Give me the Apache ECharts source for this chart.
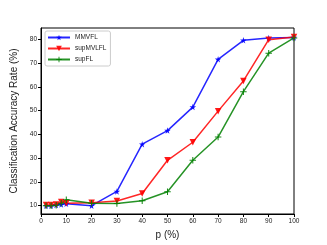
<!DOCTYPE html>
<html><head><meta charset="utf-8">
<script src="https://cdn.jsdelivr.net/npm/echarts@6/dist/echarts.min.js"></script>
<style>html,body{margin:0;padding:0;background:#fff}#c{width:327px;height:245px}</style>
</head><body><div id="c"></div>
<script>
const xValues = [2, 4, 6, 8, 10, 20, 30, 40, 50, 60, 70, 80, 90, 100];
const mmvfl = [10.0, 10.0, 10.3, 10.5, 10.8, 10.0, 16.0, 35.9, 41.6, 51.5, 71.6, 79.6, 80.6, 80.8];
const supMVLFL = [10.3, 10.3, 10.5, 11.6, 11.0, 11.2, 12.0, 15.1, 29.1, 36.7, 49.8, 62.5, 79.9, 81.0];
const supFL = [10.0, 10.0, 10.2, 11.0, 12.5, 11.0, 10.9, 12.1, 15.9, 29.1, 38.9, 58.0, 74.2, 80.6];
const xTicks = [0, 10, 20, 30, 40, 50, 60, 70, 80, 90, 100];
const yTicks = [10, 20, 30, 40, 50, 60, 70, 80];

const star = 'path://M50,0 L61,35 L98,35 L68,57 L79,91 L50,70 L21,91 L32,57 L2,35 L39,35 Z';
const plus = 'path://M42,0 H58 V42 H100 V58 H58 V100 H42 V58 H0 V42 H42 Z';
const font = 'Liberation Sans';
function pairs(arr){ return xValues.map((x,i)=>[x, arr[i]]); }
function mk(name, data, color, symbol, rot, size){
  return {name, type:'line', data:pairs(data), symbol, symbolSize:size, symbolRotate:rot,
    lineStyle:{color, width:1.5, opacity:0.85}, itemStyle:{color, opacity:0.9}, z:2};
}
const chart = echarts.init(document.getElementById('c'), null, {renderer:'canvas'});
chart.setOption({
  animation:false,
  textStyle:{fontFamily:font},
  grid:{left:41, right:33, top:28, bottom:28, show:true, borderColor:'#000', borderWidth:1, backgroundColor:'transparent'},
  legend:{orient:'vertical', left:45, top:31, itemWidth:22, itemHeight:7, itemGap:4,
    backgroundColor:'rgba(255,255,255,0.85)', borderColor:'#ccc', borderWidth:1, borderRadius:2, padding:[3,4,3,2],
    textStyle:{fontSize:6.5, color:'#222', fontFamily:font},
    data:['MMVFL','supMVLFL','supFL']},
  xAxis:{type:'value', min:0, max:100,
    name:'p (%)', nameLocation:'middle', nameGap:16, nameTextStyle:{fontSize:10, color:'#222', fontFamily:font},
    axisLine:{show:true, onZero:false, lineStyle:{color:'#000', width:1}},
    axisTick:{show:true, inside:false, length:3, customValues:xTicks, lineStyle:{color:'#000'}},
    axisLabel:{fontSize:6.5, color:'#222', margin:4, customValues:xTicks, fontFamily:font},
    splitLine:{show:false}},
  yAxis:{type:'value', min:6.5, max:84.8,
    name:'Classification Accuracy Rate (%)', nameLocation:'middle', nameGap:12, nameTextStyle:{fontSize:10, color:'#222', fontFamily:font},
    axisLine:{show:true, onZero:false, lineStyle:{color:'#000', width:1}},
    axisTick:{show:true, inside:false, length:3, customValues:yTicks, lineStyle:{color:'#000'}},
    axisLabel:{fontSize:6.5, color:'#222', margin:4, customValues:yTicks, fontFamily:font},
    splitLine:{show:false}},
  series:[
    mk('MMVFL', mmvfl, '#0000ff', star, 0, 6.5),
    mk('supMVLFL', supMVLFL, '#ff0000', 'triangle', 180, 6.5),
    mk('supFL', supFL, '#008000', plus, 0, 6.5)
  ]
});
</script></body></html>
